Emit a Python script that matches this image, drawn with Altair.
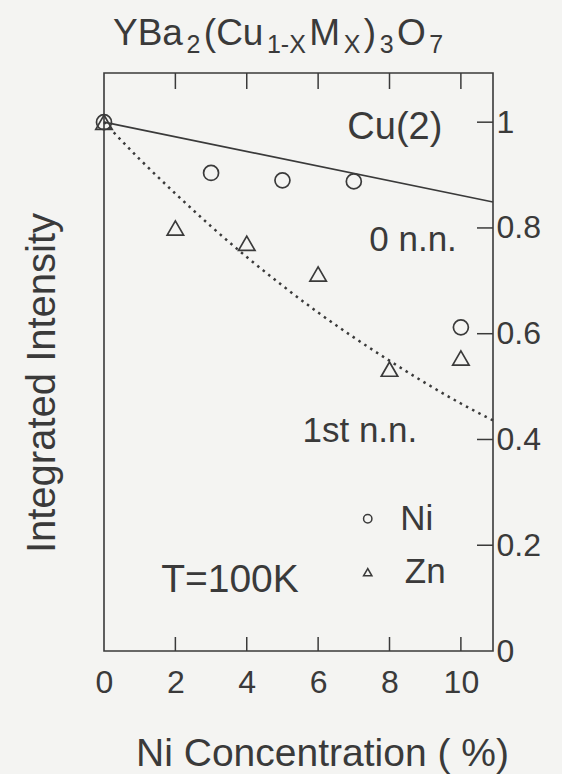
import altair as alt
import pandas as pd

# Measured integrated intensities of the Cu(2) line (normalised to x = 0)
ni_conc = [0, 3, 5, 7, 10]
ni_intensity = [1.0, 0.904, 0.890, 0.888, 0.612]
zn_conc = [0, 2, 4, 6, 8, 10]
zn_intensity = [1.0, 0.800, 0.771, 0.713, 0.533, 0.554]

# Calculated fraction of Cu(2) sites: no substituted neighbour (solid)
# and no substituted first nearest neighbour (dotted)
zero_nn_conc = [0, 10.9]
zero_nn_intensity = [1.0, 0.849]
first_nn_conc = [0, 1, 2, 3, 4, 5, 6, 7, 8, 9, 10, 10.9]
first_nn_intensity = [1.0, 0.930, 0.865, 0.803, 0.745, 0.691, 0.640,
                      0.593, 0.549, 0.507, 0.468, 0.436]

x_tick_values = [2, 4, 6, 8, 10]
x_label_values = [0, 2, 4, 6, 8, 10]
y_tick_values = [0.2, 0.4, 0.6, 0.8, 1.0]
y_label_values = [0, 0.2, 0.4, 0.6, 0.8, 1.0]

note_text = ["Cu(2)", "0 n.n.", "1st n.n.", "T=100K"]
note_conc = [8.15, 8.66, 7.17, 3.53]
note_intensity = [0.989, 0.777, 0.416, 0.134]
note_size = [38, 35, 35, 39]

legend_names = ["Ni", "Zn"]
legend_shapes = ["circle", "triangle-up"]
legend_conc = [7.39, 7.39]
legend_label_conc = [8.30, 8.43]
legend_intensity = [0.250, 0.149]

# Chemical formula pieces: (text, subscript?)
formula = [("YBa", False), ("2", True), ("(Cu", False), ("1-X", True),
           ("M", False), ("X", True), (")", False), ("3", True),
           ("O", False), ("7", True)]

INK = "#3a3a3a"
FONT = "Liberation Sans"
W, H = 389, 578
LEFT, TOP = 104, 73
X_MAX, Y_MAX = 10.9, 1.093

xscale = alt.Scale(domain=[0, X_MAX], nice=False, zero=False)
yscale = alt.Scale(domain=[0, Y_MAX], nice=False, zero=False)

x_axis = alt.Axis(
    orient="bottom", values=x_label_values, format="d",
    labelFontSize=32, labelColor=INK, labelFont=FONT, labelPadding=16,
    labelFlush=False, labelOverlap=False, labelAlign="center",
    ticks=False, domain=False, grid=False,
    title="Ni Concentration ( %)", titleFontSize=39, titleFont=FONT,
    titleFontWeight="normal", titleColor=INK, titleX=218, titleY=114,
    titleBaseline="alphabetic", titleAlign="center",
)
y_axis = alt.Axis(
    orient="right", values=y_label_values, format="~g",
    labelFontSize=32, labelColor=INK, labelFont=FONT, labelPadding=3,
    labelFlush=False, labelOverlap=False, labelAlign="left",
    labelBaseline="middle", ticks=False, domain=False,
    grid=False, title=None,
)

# Every data layer shares the same position encodings (and axes)
X = alt.X("conc:Q", scale=xscale, axis=x_axis)
Y = alt.Y("intensity:Q", scale=yscale, axis=y_axis)

zero_df = pd.DataFrame({"conc": zero_nn_conc, "intensity": zero_nn_intensity})
first_df = pd.DataFrame({"conc": first_nn_conc, "intensity": first_nn_intensity})
ni_df = pd.DataFrame({"conc": ni_conc, "intensity": ni_intensity})
zn_df = pd.DataFrame({"conc": zn_conc, "intensity": zn_intensity})

zero_line = alt.Chart(zero_df).mark_line(color=INK, strokeWidth=1.7).encode(x=X, y=Y)
first_line = alt.Chart(first_df).mark_line(
    color=INK, strokeWidth=2.5, strokeDash=[2.5, 4.5], interpolate="monotone"
).encode(x=X, y=Y)
ni_points = alt.Chart(ni_df).mark_point(
    shape="circle", size=225, filled=False, strokeWidth=1.7, color=INK, opacity=1
).encode(x=X, y=Y)
zn_points = alt.Chart(zn_df).mark_point(
    shape="triangle-up", size=270, filled=False, strokeWidth=1.7, color=INK, opacity=1
).encode(x=X, y=Y)

# Inward-pointing ticks on the bottom, top and right edges of the frame
xt_df = pd.DataFrame({"conc": x_tick_values})
bottom_ticks = alt.Chart(xt_df).mark_rule(color=INK, strokeWidth=1.5).encode(
    x=X, y=alt.value(H), y2=alt.value(H - 14),
)
top_ticks = alt.Chart(xt_df).mark_rule(color=INK, strokeWidth=1.5).encode(
    x=X, y=alt.value(0), y2=alt.value(16),
)
right_ticks = alt.Chart(pd.DataFrame({"intensity": y_tick_values})).mark_rule(
    color=INK, strokeWidth=1.5
).encode(
    y=Y, x=alt.value(W), x2=alt.value(W - 16),
)

notes = alt.Chart(pd.DataFrame({
    "conc": note_conc, "intensity": note_intensity,
    "label": note_text, "fs": note_size,
})).mark_text(
    font=FONT, color=INK, align="center", baseline="middle"
).encode(
    x=X, y=Y, text="label:N", size=alt.Size("fs:Q", scale=None, legend=None),
)

legend_marks = alt.Chart(pd.DataFrame({
    "conc": legend_conc, "intensity": legend_intensity, "shape": legend_shapes,
})).mark_point(
    size=70, filled=False, strokeWidth=1.5, color=INK, opacity=1
).encode(
    x=X, y=Y, shape=alt.Shape("shape:N", scale=None, legend=None),
)
legend_text = alt.Chart(pd.DataFrame({
    "conc": legend_label_conc, "intensity": legend_intensity, "name": legend_names,
})).mark_text(
    fontSize=35, font=FONT, color=INK, align="left", baseline="middle"
).encode(x=X, y=Y, text="name:N")

# Vertical axis title on the left side
y_title = alt.Chart(pd.DataFrame({"t": ["Integrated Intensity"]})).mark_text(
    fontSize=40, font=FONT, color=INK, angle=270, align="center",
    baseline="middle", x=-61, y=310,
).encode(text="t:N")

# Formula heading built from normal and subscript pieces
WIDTHS = {"Y": .667, "B": .667, "a": .556, "(": .333, "C": .722, "u": .556,
          "M": .833, ")": .333, "O": .778, "-": .333, "X": .667}
MAIN_FS, SUB_FS = 37, 25
heading = []
cursor = 9
for piece, sub in formula:
    fs = SUB_FS if sub else MAIN_FS
    heading.append(
        alt.Chart(pd.DataFrame({"t": [piece]})).mark_text(
            fontSize=fs, font=FONT, color=INK, align="left",
            baseline="alphabetic", x=cursor, y=-20 if sub else -28,
        ).encode(text="t:N")
    )
    cursor += sum(WIDTHS.get(ch, .556) for ch in piece) * fs + 3.5

chart = alt.layer(
    zero_line, first_line, ni_points, zn_points,
    bottom_ticks, top_ticks, right_ticks,
    notes, legend_marks, legend_text, y_title, *heading,
).properties(
    width=W, height=H,
    autosize=alt.AutoSizeParams(type="none"),
    padding={"left": LEFT, "top": TOP, "right": 562 - LEFT - W, "bottom": 774 - TOP - H},
    background="#f4f4f2",
).configure_view(
    stroke=INK, strokeWidth=1.6
)

chart.save("out.html", embed_options={"renderer": "svg", "actions": False})
